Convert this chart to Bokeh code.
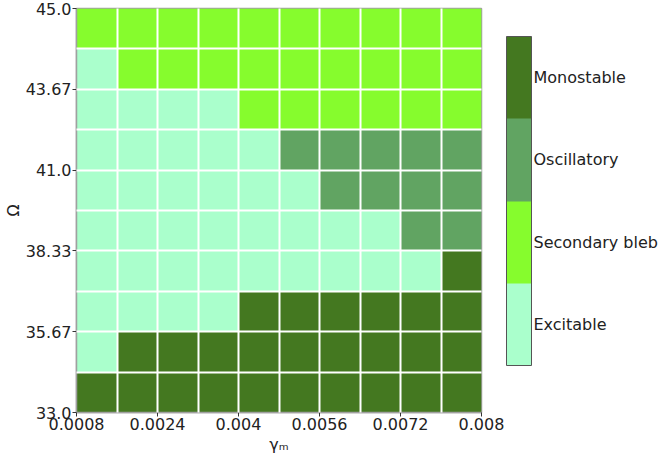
from bokeh.plotting import figure
from bokeh.models import (ColumnDataSource, LinearColorMapper, ColorBar, FixedTicker)
from bokeh.embed import file_html
from bokeh.resources import INLINE

# ---- data ----
gamma_m = [0.0008, 0.0016, 0.0024, 0.0032, 0.004, 0.0048, 0.0056, 0.0064, 0.0072, 0.008]
omega = [33.0, 34.33, 35.67, 37.0, 38.33, 39.67, 41.0, 42.33, 43.67, 45.0]
state_names = ["Excitable", "Secondary bleb", "Oscillatory", "Monostable"]
state_colors = ["#aaffcc", "#86fc2d", "#61a462", "#447820"]

# rows from Omega = 45 (top) down to Omega = 33 (bottom); 0=E,1=S,2=O,3=M
row_45_00 = [1, 1, 1, 1, 1, 1, 1, 1, 1, 1]
row_43_67 = [0, 1, 1, 1, 1, 1, 1, 1, 1, 1]
row_42_33 = [0, 0, 0, 0, 1, 1, 1, 1, 1, 1]
row_41_00 = [0, 0, 0, 0, 0, 2, 2, 2, 2, 2]
row_39_67 = [0, 0, 0, 0, 0, 0, 2, 2, 2, 2]
row_38_33 = [0, 0, 0, 0, 0, 0, 0, 0, 2, 2]
row_37_00 = [0, 0, 0, 0, 0, 0, 0, 0, 0, 3]
row_35_67 = [0, 0, 0, 0, 3, 3, 3, 3, 3, 3]
row_34_33 = [0, 3, 3, 3, 3, 3, 3, 3, 3, 3]
row_33_00 = [3, 3, 3, 3, 3, 3, 3, 3, 3, 3]
rows_top_down = [row_45_00, row_43_67, row_42_33, row_41_00, row_39_67,
                 row_38_33, row_37_00, row_35_67, row_34_33, row_33_00]

x_tick_labels = ["0.0008", "0.0024", "0.004", "0.0056", "0.0072", "0.008"]
y_tick_labels = ["33.0", "35.67", "38.33", "41.0", "43.67", "45.0"]

# ---- build cells in index coordinates ----
n = len(gamma_m)
xs, ys, cols, vals = [], [], [], []
for r, row in enumerate(rows_top_down):
    yi = n - 1 - r
    for xi, s in enumerate(row):
        xs.append(xi + 0.5)
        ys.append(yi + 0.5)
        vals.append(s)
        cols.append(state_colors[s])
src = ColumnDataSource(dict(x=xs, y=ys, c=cols, v=vals))

FONT = "DejaVu Sans"
FS = "16px"
p = figure(x_range=(0, n), y_range=(0, n), frame_width=405, frame_height=404,
           output_backend="svg", toolbar_location=None,
           min_border_left=60, min_border_top=8, min_border_bottom=0, min_border_right=176)
p.rect(x="x", y="y", width=1, height=1, source=src, fill_color="c", line_color=None)

# white cell separators via grid
for g in (p.xgrid, p.ygrid):
    g.ticker = FixedTicker(ticks=list(range(1, n)))
    g.grid_line_color = "white"
    g.grid_line_width = 2
    g.level = "overlay"

tick_pos = [0, 2, 4, 6, 8, 10]
p.xaxis.ticker = FixedTicker(ticks=tick_pos)
p.yaxis.ticker = FixedTicker(ticks=tick_pos)
p.xaxis.major_label_overrides = {t: l for t, l in zip(tick_pos, x_tick_labels)}
p.yaxis.major_label_overrides = {t: l for t, l in zip(tick_pos, y_tick_labels)}
for ax in (p.xaxis, p.yaxis):
    ax.minor_tick_line_color = None
    ax.axis_line_color = "#a0a0a0"
    ax.axis_line_width = 1.5
    ax.major_tick_line_color = "#333333"
    ax.major_tick_out = 4
    ax.major_tick_in = 0
    ax.major_label_text_font = FONT
    ax.major_label_text_font_size = FS
    ax.major_label_text_color = "#222222"
    ax.axis_label_text_font = FONT
    ax.axis_label_text_font_size = FS
    ax.axis_label_text_font_style = "normal"
    ax.axis_label_text_color = "#222222"
p.xaxis.axis_label = "γₘ"
p.yaxis.axis_label = "Ω"
p.xaxis.major_label_standoff = 1
p.yaxis.major_label_standoff = 1
p.xaxis.axis_label_standoff = 2
p.yaxis.axis_label_standoff = 0
p.outline_line_color = "#a0a0a0"
p.outline_line_width = 1.5

mapper = LinearColorMapper(palette=state_colors, low=0, high=len(state_colors))
cb = ColorBar(color_mapper=mapper, width=25, height=329,
              ticker=FixedTicker(ticks=[0.5, 1.5, 2.5, 3.5]),
              major_label_overrides={i + 0.5: nm for i, nm in enumerate(state_names)},
              major_label_text_font=FONT, major_label_text_font_size=FS,
              major_label_text_color="#222222",
              major_tick_line_color=None, bar_line_color="#555555", bar_line_width=1,
              border_line_color=None, background_fill_color=None,
              label_standoff=2, padding=0, margin=0, location=(25, 47))
p.add_layout(cb, "right")

open("out.html", "w").write(file_html(p, INLINE))
